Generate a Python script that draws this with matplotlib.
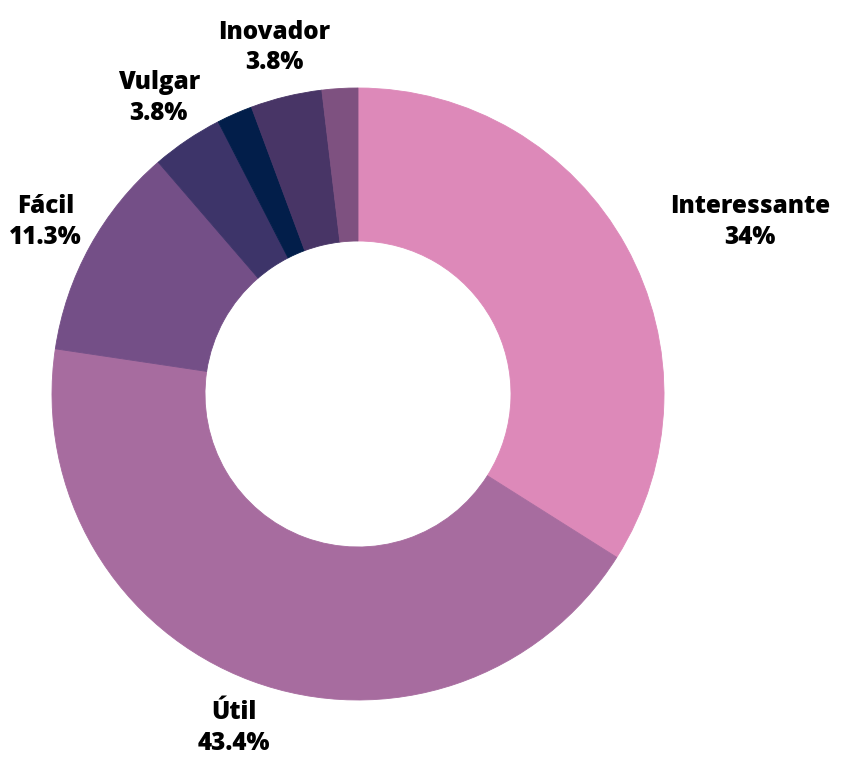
import matplotlib
matplotlib.use("Agg")
import matplotlib.pyplot as plt
import numpy as np

categories = ["Interessante", "Útil", "Fácil", "Vulgar", "Outro A", "Inovador", "Outro B"]
counts = [18, 23, 6, 2, 1, 2, 1]
show_label = [True, True, True, True, False, True, False]
colors = ["#DD89B9", "#A76C9F", "#744F87", "#3D3469", "#021E4A", "#483566", "#7E5180"]

fig = plt.figure(figsize=(8.42, 7.64), dpi=100)
ax = fig.add_axes([0, 0, 1, 1])
R_PX = 306.0
cx, cy = 358.0, 764 - 394.0

wedges, _ = ax.pie(counts, colors=colors, startangle=90, counterclock=False,
                   radius=1.0, wedgeprops=dict(width=0.5, linewidth=0.6),
                   normalize=True)
for w, c in zip(wedges, colors):
    w.set_edgecolor(c)
ax.axis("off")
ax.set_xlim(-cx / R_PX, (842 - cx) / R_PX)
ax.set_ylim(-cy / R_PX, (764 - cy) / R_PX)
ax.set_aspect("auto")

total = sum(counts)
dist = 1.165
for w, cat, n, show in zip(wedges, categories, counts, show_label):
    if not show:
        continue
    ang = np.deg2rad((w.theta1 + w.theta2) / 2)
    x, y = dist * np.cos(ang), dist * np.sin(ang)
    pct = 100 * n / total
    txt = f"{pct:.1f}%"
    if abs(pct - round(pct)) < 0.05:
        txt = f"{round(pct)}%"
    ha = "left" if np.cos(ang) > 0.5 else "center"
    ax.text(x, y, f"{cat}\n{txt}", ha=ha, va="center", multialignment="center",
            fontsize=17.5, fontweight=800, family=["Open Sans", "DejaVu Sans"],
            color="black", linespacing=1.3)

fig.savefig("out.png", dpi=100)
